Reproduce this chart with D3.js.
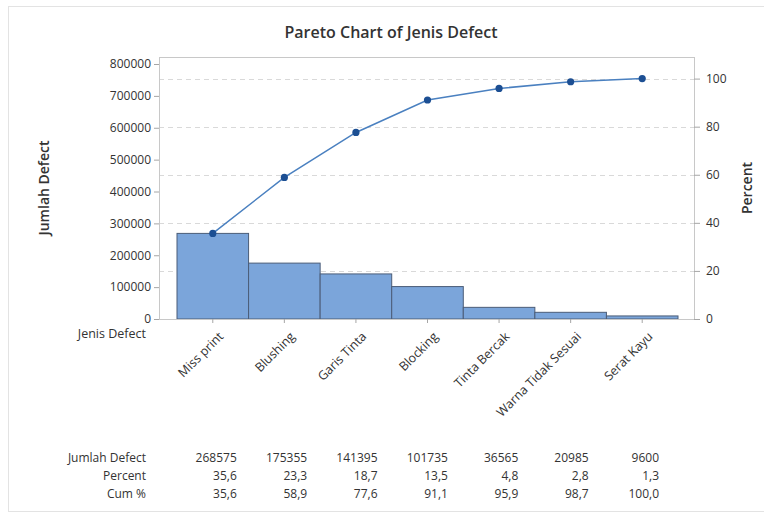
<!DOCTYPE html>
<html>
<head>
<meta charset="utf-8">
<script src="https://cdn.jsdelivr.net/npm/d3@7"></script>
<style>
  body { margin: 0; background: #fff; }
  text { font-family: "Open Sans", "Noto Sans", sans-serif; fill: #333; }
  .grid line { stroke: #d9d9d9; stroke-dasharray: 5,4; }
  .axis path, .axis line { stroke: #a6a6a6; }
  .axis text { font-size: 12px; }
</style>
</head>
<body>
<svg id="chart" width="764" height="514"></svg>
<script>
const categories = ['Miss print', 'Blushing', 'Garis Tinta', 'Blocking', 'Tinta Bercak', 'Warna Tidak Sesuai', 'Serat Kayu'];
const counts = [268575, 175355, 141395, 101735, 36565, 20985, 9600];
const percents = ['35,6', '23,3', '18,7', '13,5', '4,8', '2,8', '1,3'];
const cumPercents = ['35,6', '58,9', '77,6', '91,1', '95,9', '98,7', '100,0'];
const cumValues = [35.6, 58.9, 77.6, 91.1, 95.9, 98.7, 100.0];
const countTicks = [0, 100000, 200000, 300000, 400000, 500000, 600000, 700000, 800000];
const percentTicks = [0, 20, 40, 60, 80, 100];

const margin = { top: 57, left: 159, right: 70, bottom: 195 };
const width = 764, height = 514;
const svg = d3.select('#chart');

// bingkai luar
svg.append('rect')
  .attr('x', 8.5).attr('y', 6.5)
  .attr('width', 800).attr('height', 505)
  .attr('fill', 'none').attr('stroke', '#e3e3e3');

const plotW = width - margin.left - margin.right;
const plotH = height - margin.top - margin.bottom;
const total = d3.sum(counts);

const x = d3.scaleBand().domain(categories).range([18, 519]).paddingInner(0);
const yLeft = d3.scaleLinear().domain([0, 822000]).range([plotH, 0]);
const yRight = d3.scaleLinear().domain([0, 822000 / total * 100]).range([plotH, 0]);

const g = svg.append('g').attr('transform', `translate(${margin.left}, ${margin.top})`);

// garis bantu
g.append('g').attr('class', 'grid')
  .selectAll('line').data(percentTicks.filter(d => d > 0)).join('line')
  .attr('x1', 0).attr('x2', plotW)
  .attr('y1', d => Math.round(yRight(d)) + 0.5)
  .attr('y2', d => Math.round(yRight(d)) + 0.5);

// batang
g.append('g').selectAll('rect').data(counts).join('rect')
  .attr('x', (d, i) => x(categories[i]))
  .attr('y', d => yLeft(d))
  .attr('width', x.bandwidth())
  .attr('height', d => plotH - yLeft(d))
  .attr('fill', '#7ba5da')
  .attr('stroke', '#4b5d78')
  .attr('stroke-width', 1);

// bingkai plot
g.append('rect')
  .attr('x', 0.5).attr('y', 0.5)
  .attr('width', plotW).attr('height', plotH)
  .attr('fill', 'none').attr('stroke', '#c8c8c8');

// garis kumulatif
const line = d3.line()
  .x((d, i) => x(categories[i]) + x.bandwidth() / 2)
  .y(d => yRight(d));

g.append('path')
  .attr('d', line(cumValues))
  .attr('fill', 'none')
  .attr('stroke', '#4a80c0')
  .attr('stroke-width', 1.5);

g.append('g').selectAll('circle').data(cumValues).join('circle')
  .attr('cx', (d, i) => x(categories[i]) + x.bandwidth() / 2)
  .attr('cy', d => yRight(d))
  .attr('r', 3.6)
  .attr('fill', '#1c4f93');

// sumbu kiri
g.append('g').attr('class', 'axis')
  .call(d3.axisLeft(yLeft).tickValues(countTicks).tickSize(5).tickPadding(3).tickFormat(d3.format('d')))
  .call(s => s.select('.domain').remove());

// sumbu kanan
g.append('g').attr('class', 'axis')
  .attr('transform', `translate(${plotW}, 0)`)
  .call(d3.axisRight(yRight).tickValues(percentTicks).tickSize(6).tickPadding(6))
  .call(s => s.select('.domain').remove());

// sumbu bawah
g.append('g').attr('class', 'axis')
  .attr('transform', `translate(0, ${plotH})`)
  .call(d3.axisBottom(x).tickSize(4).tickFormat(''))
  .call(s => s.select('.domain').remove());

g.append('g').selectAll('text').data(categories).join('text')
  .attr('transform', d => `translate(${x(d) + x.bandwidth() / 2 + 5}, ${plotH + 12}) rotate(-45)`)
  .attr('text-anchor', 'end')
  .attr('dy', '0.71em')
  .attr('font-size', 12.5)
  .text(d => d);

// judul dan label
svg.append('text')
  .attr('x', 391).attr('y', 38)
  .attr('text-anchor', 'middle')
  .attr('font-size', 16)
  .attr('font-weight', 600)
  .attr('fill', '#222')
  .text('Pareto Chart of Jenis Defect');

svg.append('text')
  .attr('transform', `translate(49, ${margin.top + plotH / 2}) rotate(-90)`)
  .attr('text-anchor', 'middle')
  .attr('font-size', 14)
  .attr('font-weight', 600)
  .text('Jumlah Defect');

svg.append('text')
  .attr('transform', `translate(752, ${margin.top + plotH / 2}) rotate(-90)`)
  .attr('text-anchor', 'middle')
  .attr('font-size', 14)
  .attr('font-weight', 600)
  .text('Percent');

svg.append('text')
  .attr('x', 146).attr('y', margin.top + plotH + 19)
  .attr('text-anchor', 'end')
  .attr('font-size', 12.5)
  .text('Jenis Defect');

// tabel bawah
const rows = [
  { label: 'Jumlah Defect', values: counts.map(d => String(d)) },
  { label: 'Percent', values: percents },
  { label: 'Cum %', values: cumPercents }
];
const table = svg.append('g');
rows.forEach((row, r) => {
  const yy = 462 + r * 18;
  table.append('text')
    .attr('x', 146).attr('y', yy)
    .attr('text-anchor', 'end').attr('font-size', 12)
    .text(row.label);
  table.selectAll(null).data(row.values).join('text')
    .attr('x', (d, i) => margin.left + x(categories[i]) + x.bandwidth() / 2 + 24 - i * 1.2)
    .attr('y', yy)
    .attr('text-anchor', 'end').attr('font-size', 12)
    .text(d => d);
});
</script>
</body>
</html>
